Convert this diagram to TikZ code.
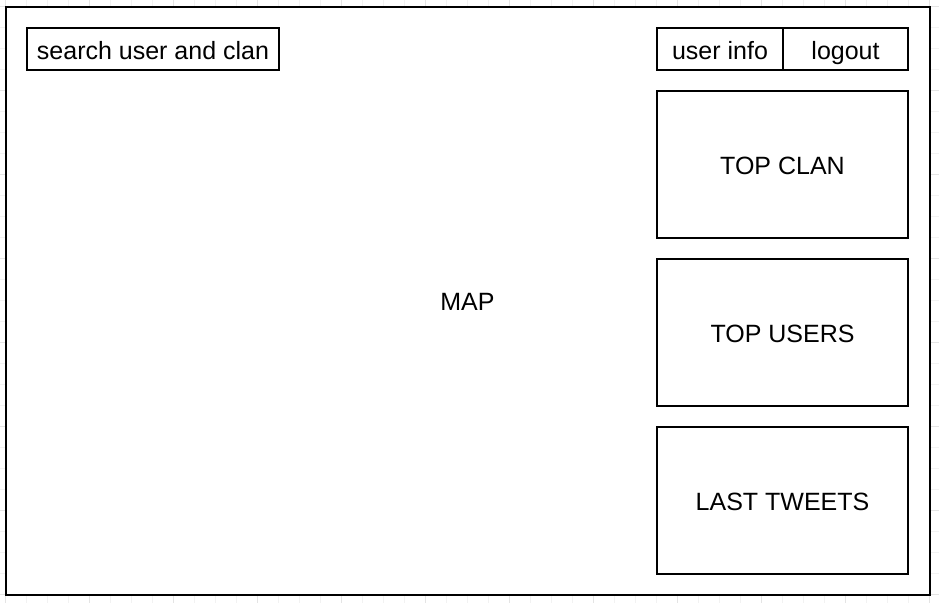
\documentclass[tikz,border=0pt]{standalone}
\usepackage{fontspec}
\setmainfont{Liberation Sans}
\definecolor{gridminor}{HTML}{F2F2F2}
\definecolor{gridmajor}{HTML}{E4E4E4}
\tikzset{
  box/.style={draw=black, line width=2pt, fill=white, inner sep=0pt, outer sep=0pt,
    text height=25pt, text depth=5pt,
    font=\fontsize{25}{30}\selectfont, anchor=north west},
}
\begin{document}
\begin{tikzpicture}[x=1pt,y=-1pt]
\useasboundingbox (0,0) rectangle (939,603);
\fill[white] (0,0) rectangle (939,603);
% background grid
\foreach \i in {-1,...,45} {
  \pgfmathsetmacro{\xx}{5.5+21*\i}
  \draw[gridminor, line width=1pt] (\xx,0) -- (\xx,603);
}
\foreach \j in {-1,...,29} {
  \pgfmathsetmacro{\yy}{6.5+21*\j}
  \draw[gridminor, line width=1pt] (0,\yy) -- (939,\yy);
}
\foreach \i in {0,...,11} {
  \pgfmathsetmacro{\xx}{5.5+84*\i}
  \draw[gridmajor, line width=1pt] (\xx,0) -- (\xx,603);
}
\foreach \j in {0,...,7} {
  \pgfmathsetmacro{\yy}{6.5+84*\j}
  \draw[gridmajor, line width=1pt] (0,\yy) -- (939,\yy);
}
% main frame (map)
\node[box, minimum width=924pt, minimum height=588pt] (map) at (5.5,6.5) {MAP};
% search
\node[box, minimum width=252pt, minimum height=42pt] (search) at (27,28) {search user and clan};
% user info / logout
\node[box, minimum width=126pt, minimum height=42pt] (userinfo) at (657,28) {user info};
\node[box, minimum width=125pt, minimum height=42pt] (logout) at (783,28) {logout};
% panels
\node[box, minimum width=251pt, minimum height=147pt] (topclan) at (657,91) {TOP CLAN};
\node[box, minimum width=251pt, minimum height=147pt] (topusers) at (657,259) {TOP USERS};
\node[box, minimum width=251pt, minimum height=147pt] (tweets) at (657,427) {LAST TWEETS};
\end{tikzpicture}
\end{document}
